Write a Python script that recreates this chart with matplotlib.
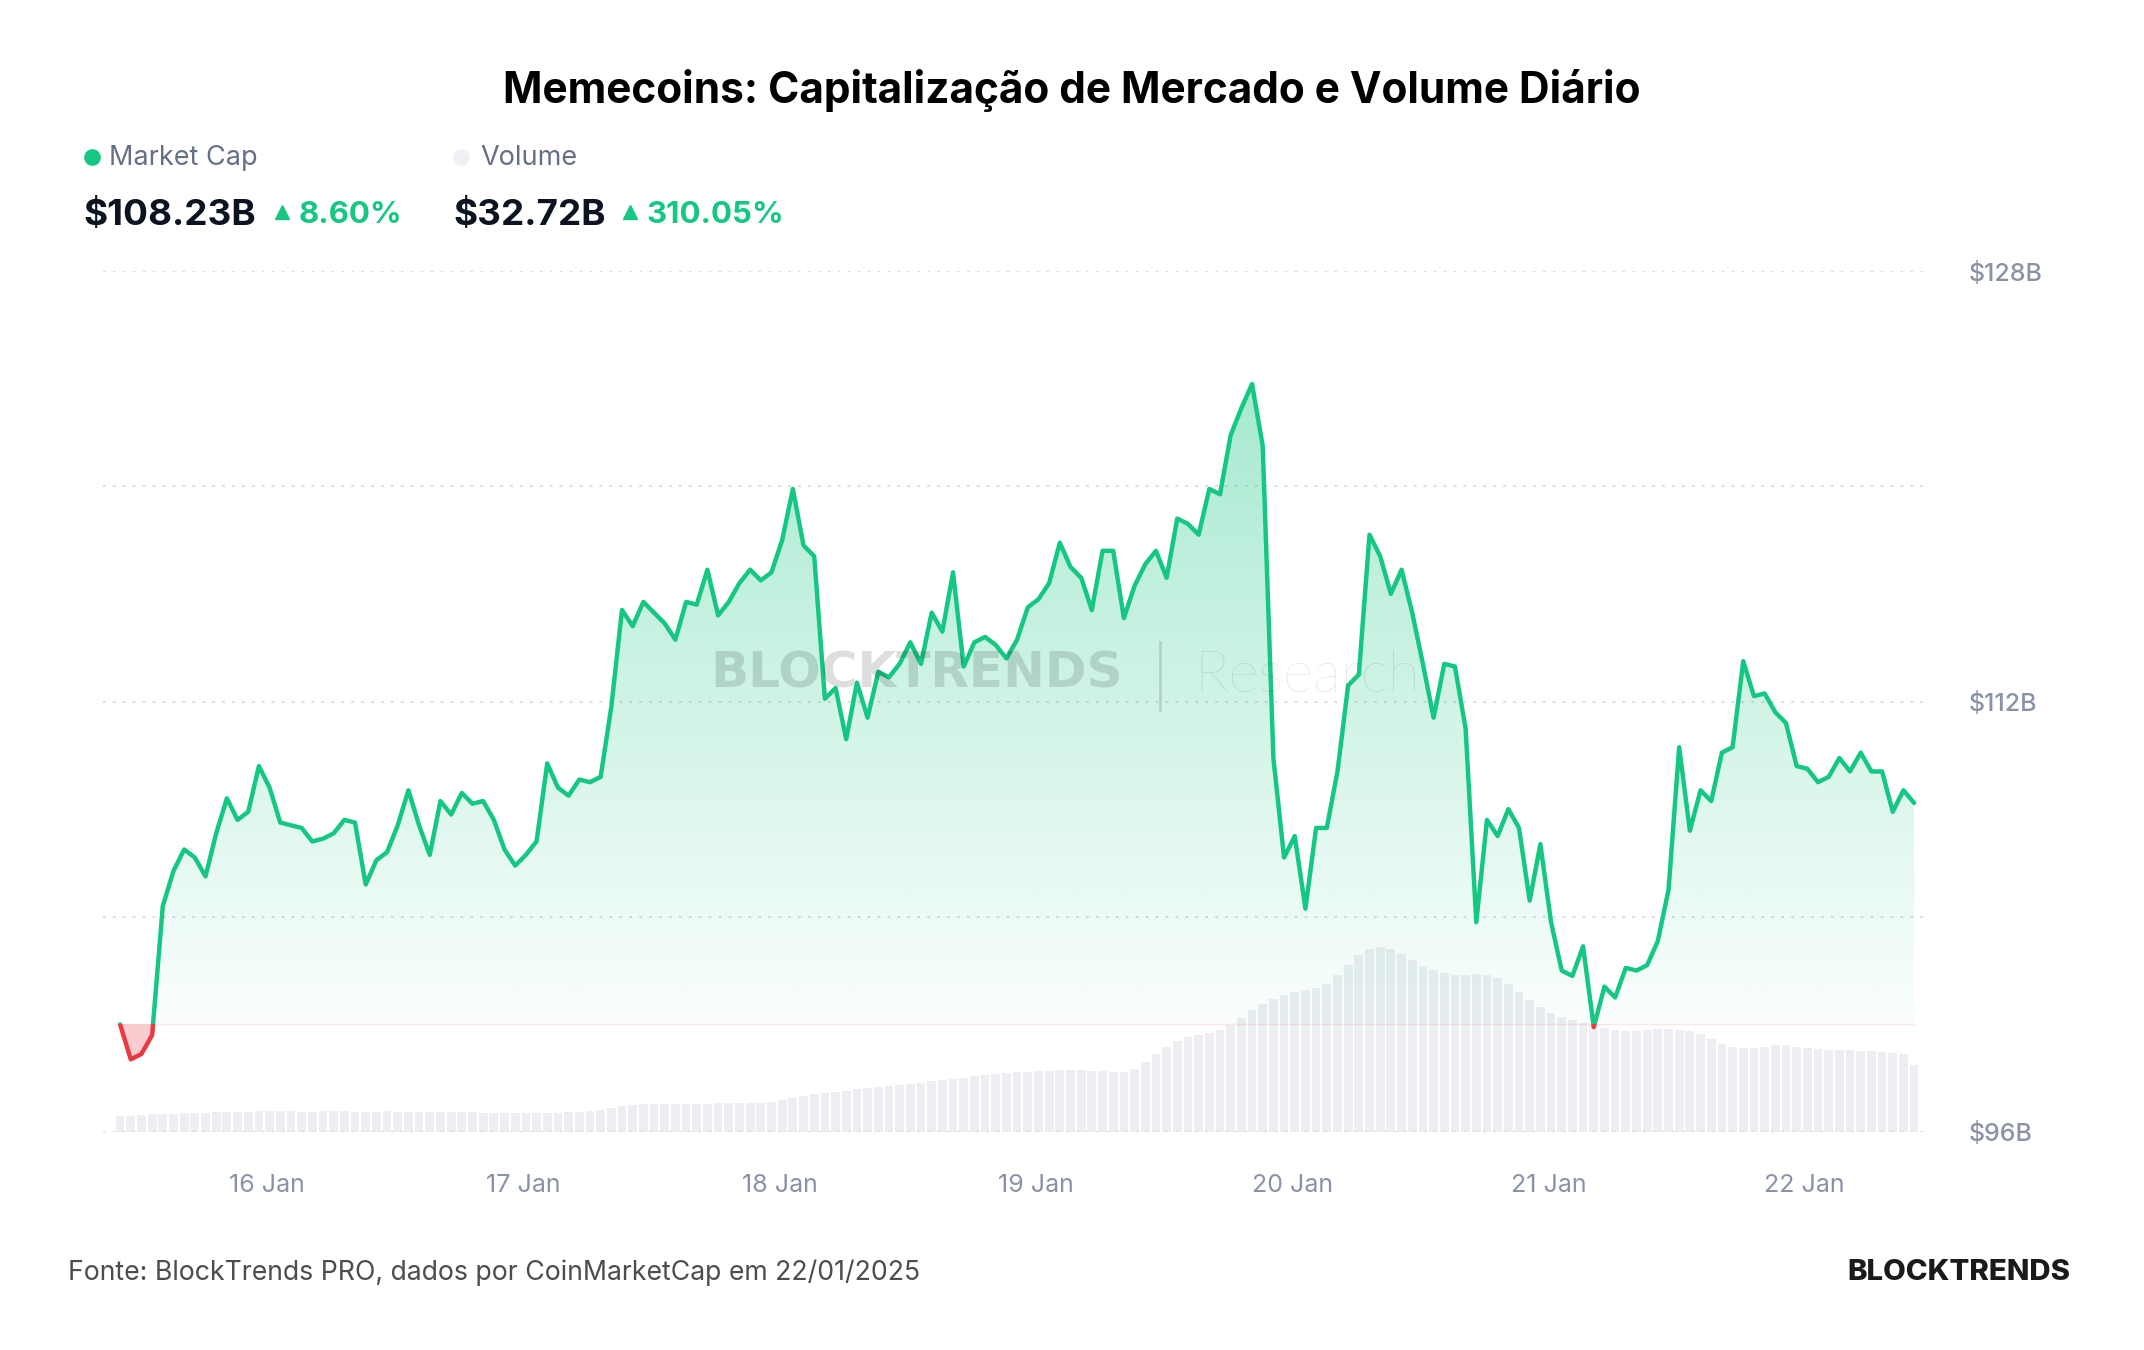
import numpy as np
import pandas as pd
import matplotlib
matplotlib.use("Agg")
import matplotlib.pyplot as plt
import matplotlib.dates as mdates
from matplotlib.patches import Rectangle
from matplotlib.lines import Line2D

# ---------------- data (hourly, $B) ----------------
start_time = "2025-01-15 10:15"
market_cap = [
    100.0, 98.7, 98.9, 99.6, 104.4, 105.7, 106.5, 106.2, 105.5, 107.1,
    108.4, 107.6, 107.9, 109.6, 108.8, 107.5, 107.4, 107.3, 106.8, 106.9,
    107.1, 107.6, 107.5, 105.2, 106.1, 106.4, 107.4, 108.7, 107.4, 106.3,
    108.3, 107.8, 108.6, 108.2, 108.3, 107.6, 106.5, 105.9, 106.3, 106.8,
    109.7, 108.8, 108.5, 109.1, 109.0, 109.2, 111.8, 115.4, 114.8, 115.7,
    115.3, 114.9, 114.3, 115.7, 115.6, 116.9, 115.2, 115.7, 116.4, 116.9,
    116.5, 116.8, 118.0, 119.9, 117.8, 117.4, 112.1, 112.5, 110.6, 112.7,
    111.4, 113.1, 112.9, 113.4, 114.2, 113.4, 115.3, 114.6, 116.8, 113.3,
    114.2, 114.4, 114.1, 113.6, 114.3, 115.5, 115.8, 116.4, 117.9, 117.0,
    116.6, 115.4, 117.6, 117.6, 115.1, 116.3, 117.1, 117.6, 116.6, 118.8,
    118.6, 118.2, 119.9, 119.7, 121.9, 122.9, 123.8, 121.5, 109.9, 106.2,
    107.0, 104.3, 107.3, 107.3, 109.4, 112.6, 113.0, 118.2, 117.4, 116.0,
    116.9, 115.3, 113.4, 111.4, 113.4, 113.3, 111.0, 103.8, 107.6, 107.0,
    108.0, 107.3, 104.6, 106.7, 103.8, 102.0, 101.8, 102.9, 99.9, 101.4,
    101.0, 102.1, 102.0, 102.2, 103.1, 105.0, 110.3, 107.2, 108.7, 108.3,
    110.1, 110.3, 113.5, 112.2, 112.3, 111.6, 111.2, 109.6, 109.5, 109.0,
    109.2, 109.9, 109.4, 110.1, 109.4, 109.4, 107.9, 108.7, 108.23,
]
volume = [
    7.98, 8.0, 8.2, 8.5, 8.7, 8.9, 9.0, 9.2, 9.4,
    9.6, 9.7, 9.8, 9.9, 10.0, 10.0, 10.1, 10.0, 9.9, 9.9, 10.0, 10.1, 10.0, 9.9, 9.8, 9.9, 10.0, 9.9,
    9.8, 9.7, 9.8, 9.9, 9.8, 9.7, 9.5, 9.3, 9.2, 9.1, 9.0, 9.0, 9.1, 9.2, 9.3, 9.5, 9.8, 10.2,
    10.8, 11.6, 12.4, 13.1,
    13.4, 13.5, 13.5, 13.6, 13.7, 13.7, 13.8, 13.9, 14.0, 14.0, 14.1, 14.3,
    14.7, 15.5, 16.4, 17.4, 18.3, 19.0,
    19.5, 20.1, 20.8, 21.4, 22.0, 22.5, 23.0, 23.5, 24.0,
    24.6, 25.2, 25.8, 26.4, 27.0, 27.6, 28.1, 28.5, 28.9,
    29.2, 29.5, 29.7, 29.9, 30.0, 30.0, 29.8, 29.6, 29.3, 29.0,
    30.5, 34.0, 38.0, 41.5, 44.0, 46.0,
    47.0, 48.0, 49.5, 52.0, 55.5, 59.0,
    62.0, 64.5, 66.5, 68.0, 69.0, 70.0,
    72.0, 76.0, 81.0, 86.0,
    89.0, 90.0, 89.0, 86.5, 83.5,
    80.5, 78.5, 77.0, 76.0, 76.0, 76.5, 76.0,
    75.0, 72.0, 68.0, 64.0, 60.5, 58.0, 56.0, 54.5, 53.0,
    52.0, 50.5, 49.5, 49.0, 49.0, 49.5,
    50.0, 50.0, 49.5, 49.0, 47.5, 45.0, 42.5, 41.5,
    41.0, 41.0, 41.5, 42.0, 42.0, 41.5, 41.0, 40.5, 40.0, 40.0, 40.0, 39.5, 39.5, 39.0, 38.5,
    38.0, 32.72,
]
y_major = [96, 112, 128]
y_minor = [104, 120]
title = "Memecoins: Capitalização de Mercado e Volume Diário"
mc_label, mc_value, mc_change = "Market Cap", "$108.23B", "8.60%"
vol_label, vol_value, vol_change = "Volume", "$32.72B", "310.05%"
source = "Fonte: BlockTrends PRO, dados por CoinMarketCap em 22/01/2025"
brand = "BLOCKTRENDS"

# ---------------- style ----------------
GREEN = "#16c784"
RED = "#ea3943"
BAR = "#eceef2"
GRID = "#d5d9e0"
TICK = "#8a93a6"
plt.rcParams["font.family"] = ["Inter", "DejaVu Sans"]

W, H = 2144, 1350
fig = plt.figure(figsize=(W / 100, H / 100), dpi=100)
fig.patch.set_facecolor("white")

ax = fig.add_axes([103 / W, 218 / H, 1825 / W, 861 / H])
ax2 = ax.twinx()
ax.set_zorder(ax2.get_zorder() + 1)
ax.patch.set_visible(False)

t_mc = mdates.date2num(pd.date_range(start_time, periods=len(market_cap), freq="h"))
t_vol = mdates.date2num(pd.date_range(start_time, periods=len(volume), freq="h"))
y = np.array(market_cap)
base = y[0]

# volume bars (secondary axis)
ax2.bar(t_vol, volume, width=0.82 / 24, color=BAR, linewidth=0, align="center")
ax2.set_ylim(0, 418)
ax2.axis("off")

# gradient fill above baseline
grad = np.linspace(0, 1, 256).reshape(-1, 1)
rgba = np.zeros((256, 1, 4))
rgba[..., :3] = matplotlib.colors.to_rgb(GREEN)
rgba[..., 3] = 0.02 + 0.36 * grad
im = ax.imshow(rgba, extent=[t_mc[0], t_mc[-1], base, y.max()], origin="lower",
               aspect="auto", zorder=2, interpolation="bilinear")
poly = ax.fill_between(t_mc, base, np.maximum(y, base), facecolor="none", edgecolor="none")
im.set_clip_path(poly.get_paths()[0], transform=ax.transData)

# red fill below baseline
ax.fill_between(t_mc, base, y, where=y < base, interpolate=True, color=RED, alpha=0.25,
                linewidth=0, zorder=2)
ax.hlines(base, t_mc[0], t_mc[-1], color=RED, alpha=0.12, lw=1, zorder=2)

# line, green above baseline, red below
lg, = ax.plot(t_mc, y, color=GREEN, lw=3.2, zorder=4, solid_joinstyle="round",
              solid_capstyle="round")
lg.set_clip_path(Rectangle((t_mc[0] - 2, base), 30, 100, transform=ax.transData))
lr, = ax.plot(t_mc, y, color=RED, lw=3.2, zorder=4, solid_joinstyle="round",
              solid_capstyle="round")
lr.set_clip_path(Rectangle((t_mc[0] - 2, base - 100), 30, 100, transform=ax.transData))

# axes limits, grid & ticks
ax.set_xlim(t_mc[0] - 1.6 / 24, t_mc[-1] + 1.3 / 24)
ax.set_ylim(96, 128)
ax.set_yticks(y_major)
ax.set_yticks(y_minor, minor=True)
ax.set_yticklabels([f"${v}B" for v in y_major])
ax.yaxis.tick_right()
ax.tick_params(axis="y", which="both", length=0, pad=29, labelsize=18, labelcolor=TICK)
for lab in ax.get_yticklabels():
    lab.set_fontweight("medium")
ax.grid(axis="y", which="both", color=GRID, linestyle=(0, (1.5, 4)), lw=1.3)
ax.xaxis.set_major_locator(mdates.DayLocator())
ax.xaxis.set_major_formatter(mdates.DateFormatter("%d %b"))
ax.tick_params(axis="x", length=0, pad=30, labelsize=18, labelcolor=TICK)
for s in ax.spines.values():
    s.set_visible(False)

# watermark
wm = dict(color="black", alpha=0.13, zorder=10, va="center")
fig.text(917 / W, 1 - 674 / H, "BLOCKTRENDS", ha="center", fontsize=36,
         fontweight="bold", family=["DejaVu Sans"], **wm)
fig.add_artist(Line2D([1160 / W] * 2, [1 - 710 / H, 1 - 642 / H], color="black",
                      alpha=0.13, lw=2))
fig.text(1194 / W, 1 - 676 / H, "Research", ha="left", fontsize=42,
         fontweight="light", family=["Lato", "DejaVu Sans"], **wm)

# title
fig.text(0.5, 1 - 90 / H, title, ha="center", va="center", fontsize=30.5,
         fontweight="bold", color="black")

# legend header
fig.add_artist(Line2D([92 / W], [1 - 157 / H], marker="o", markersize=11,
                      color=GREEN, linestyle="none"))
fig.text(109 / W, 1 - 158 / H, mc_label, ha="left", va="center", fontsize=19.5, color="#667085")
fig.add_artist(Line2D([461 / W], [1 - 157 / H], marker="o", markersize=11,
                      color="#eef0f4", linestyle="none"))
fig.text(480 / W, 1 - 158 / H, vol_label, ha="left", va="center", fontsize=19.5, color="#667085")

vy = 1 - 215 / H
fig.text(83 / W, vy, mc_value, ha="left", va="center", fontsize=26.5, fontweight="bold",
         color="#0d1421")
fig.add_artist(Line2D([282 / W], [vy + 0.002], marker="^", markersize=10, color=GREEN,
                      linestyle="none"))
fig.text(299 / W, vy, mc_change, ha="left", va="center", fontsize=22.5, fontweight="bold",
         color=GREEN)
fig.text(453 / W, vy, vol_value, ha="left", va="center", fontsize=26.5, fontweight="bold",
         color="#0d1421")
fig.add_artist(Line2D([630 / W], [vy + 0.002], marker="^", markersize=10, color=GREEN,
                      linestyle="none"))
fig.text(647 / W, vy, vol_change, ha="left", va="center", fontsize=22.5, fontweight="bold",
         color=GREEN)

# footer
fig.text(68 / W, 1 - 1273 / H, source, ha="left", va="center", fontsize=19.2, color="#4d4d4d")
fig.text(2070 / W, 1 - 1273 / H, brand, ha="right", va="center", fontsize=21.2,
         fontweight="heavy", color="#1a1a1a")

fig.savefig("out.png", dpi=100, facecolor="white")
